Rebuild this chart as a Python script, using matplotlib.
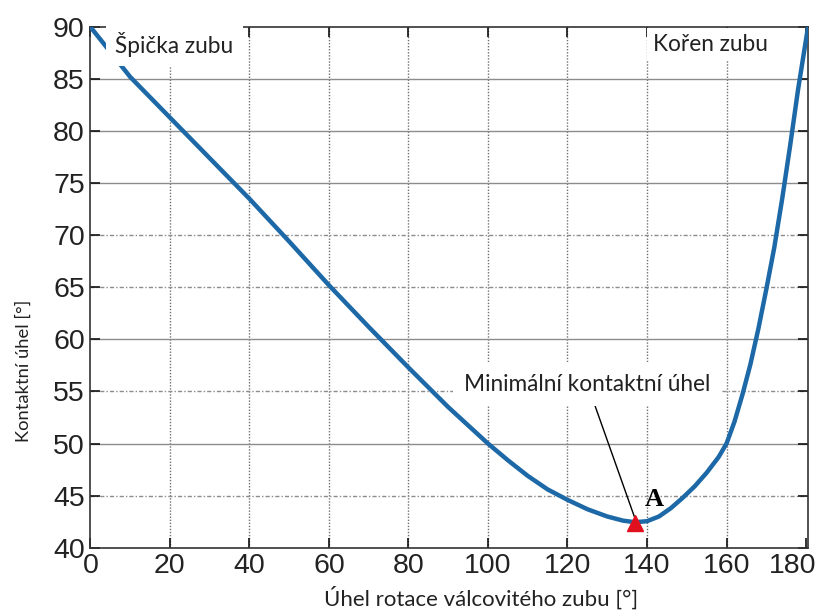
import matplotlib
matplotlib.use("Agg")
import matplotlib.pyplot as plt
from matplotlib.transforms import ScaledTranslation

# Curve data (rotation angle [deg], contact angle [deg])
rot_angle = [0, 5, 10, 20, 30, 40, 50, 60, 70, 80, 90, 100, 105, 110, 115, 120,
             125, 130, 134, 137, 140, 143, 146, 149, 152, 155, 158, 160, 162, 164,
             166, 168, 170, 172, 174, 176, 178, 180.5]
contact_angle = [90, 87.6, 85.2, 81.3, 77.4, 73.5, 69.4, 65.2, 61.2, 57.3, 53.5, 50.0,
                 48.4, 46.9, 45.6, 44.6, 43.7, 43.0, 42.6, 42.45, 42.55, 43.0, 43.8,
                 44.8, 45.9, 47.2, 48.7, 50.0, 52.1, 54.7, 57.6, 61.0, 64.8, 68.8,
                 73.5, 78.6, 84.0, 90.0]

min_point = (137, 42.35)
x_ticks = [0, 20, 40, 60, 80, 100, 120, 140, 160, 180]
y_ticks = [40, 45, 50, 55, 60, 65, 70, 75, 80, 85, 90]
solid_grid_y = [85, 80, 75, 60, 50]
dotted_grid_y = [70, 65, 55, 45]

fig = plt.figure(figsize=(8.22, 6.12), dpi=100)
ax = fig.add_axes([0.110, 0.105, 0.873, 0.851])

ax.set_xlim(0, 180.5)
ax.set_ylim(40, 90)

# grid
for x in x_ticks[1:-1]:
    ax.axvline(x, color="#707070", lw=1.0, ls=(0, (1, 1.2)), zorder=1)
for y in solid_grid_y:
    ax.axhline(y, color="#8c8c8c", lw=1.0, ls="-", zorder=1)
for y in dotted_grid_y:
    ax.axhline(y, color="#8c8c8c", lw=1.0, ls=(0, (3, 1.5, 1, 1.5)), zorder=1)

ax.plot(rot_angle, contact_angle, color="#1d68a6", lw=3.2, zorder=3,
        solid_capstyle="round", solid_joinstyle="round")
ax.plot([min_point[0]], [min_point[1]], marker="^", color="#e0101e",
        markersize=11, ls="none", zorder=6)

txt_font = ["Lato", "DejaVu Sans"]
ax.text(6.3, 88.3, "Špička zubu", fontsize=16.3, family=txt_font, color="#222222",
        ha="left", va="center",
        bbox=dict(boxstyle="square,pad=0.4", fc="white", ec="none"), zorder=5)
ax.text(141.5, 88.3, "Kořen zubu", fontsize=16.3, family=txt_font, color="#222222",
        ha="left", va="center",
        bbox=dict(boxstyle="square,pad=0.25", fc="white", ec="none"), zorder=5)
ax.annotate("Minimální kontaktní úhel", xy=(136.8, 43.0), xytext=(125, 55.7),
            fontsize=16.3, family=txt_font, color="#222222", ha="center", va="center",
            bbox=dict(boxstyle="square,pad=0.5", fc="white", ec="none"),
            arrowprops=dict(arrowstyle="-", color="black", lw=1.0,
                            shrinkA=0, shrinkB=0),
            zorder=5)
ax.text(139.5, 44.6, "A", fontsize=19, fontweight="bold",
        family=["Liberation Serif", "DejaVu Serif"], ha="left", va="center", zorder=6)

ax.set_xticks(x_ticks)
ax.set_yticks(y_ticks)
ax.tick_params(direction="in", length=7, width=1.2, top=True, right=True,
               labelsize=20.5, pad=4, colors="#111111")
for lab in ax.get_xticklabels() + ax.get_yticklabels():
    lab.set_family(["Liberation Sans", "DejaVu Sans"])
    lab.set_color("#222222")
last = ax.get_xticklabels()[-1]
last.set_transform(last.get_transform() + ScaledTranslation(-0.13, 0, fig.dpi_scale_trans))

for s in ax.spines.values():
    s.set_color("#333333")
    s.set_linewidth(1.2)

ax.set_xlabel("Úhel rotace válcovitého zubu [°]", fontsize=16, family=txt_font,
              color="#222222", labelpad=5)
ax.set_ylabel("Kontaktní úhel [°]", fontsize=13.2, family=txt_font,
              color="#222222", labelpad=15)
ax.xaxis.label.set_x(0.544)
ax.yaxis.label.set_y(0.34)

fig.savefig("out.png", dpi=100, facecolor="white")
